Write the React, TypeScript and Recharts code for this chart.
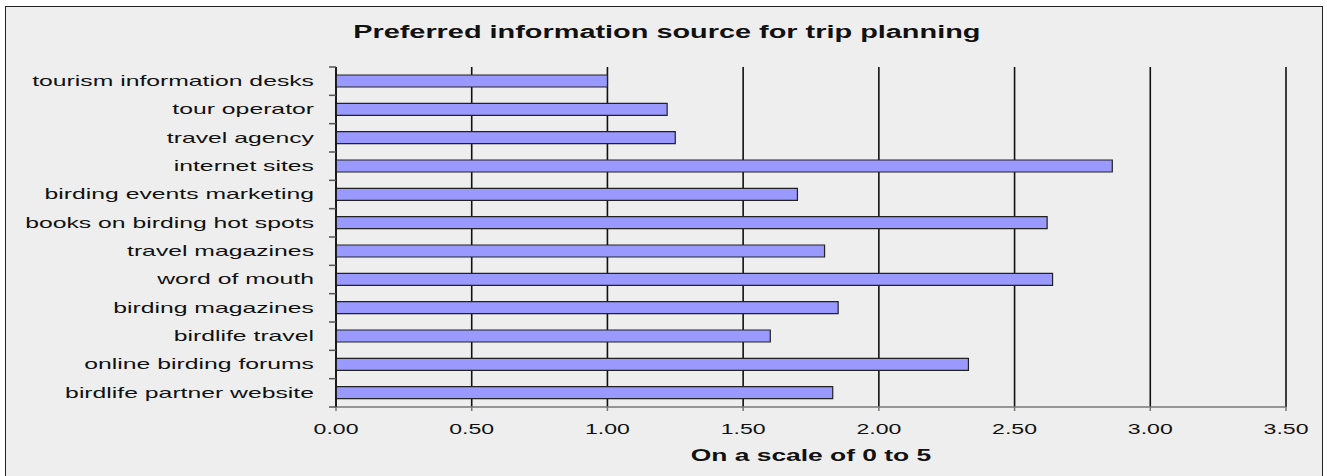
import React from "react";
import { BarChart, Bar, XAxis, YAxis, CartesianGrid } from "recharts";

const sources = [
  "tourism information desks",
  "tour operator",
  "travel agency",
  "internet sites",
  "birding events marketing",
  "books on birding hot spots",
  "travel magazines",
  "word of mouth",
  "birding magazines",
  "birdlife travel",
  "online birding forums",
  "birdlife partner website",
];

const scores = [1.0, 1.22, 1.25, 2.86, 1.7, 2.62, 1.8, 2.64, 1.85, 1.6, 2.33, 1.83];

const scaleTicks = [0, 0.5, 1, 1.5, 2, 2.5, 3, 3.5];

const data = sources.map((source, i) => ({ source, score: scores[i] }));

const WIDTH = 1327;
const HEIGHT = 476;
const TOP = 67;
const X_AXIS_HEIGHT = 69;
const Y_AXIS_WIDTH = 336;
const BAND = (HEIGHT - TOP - X_AXIS_HEIGHT) / sources.length;

const FONT = "'Liberation Sans', Arial, Helvetica, sans-serif";
// the lettering is drawn horizontally widened
const STRETCH = 1.65;

function WideText(props: any) {
  const { x, y, dy, anchor, size, bold, children } = props;
  return (
    <g transform={`translate(${x},${y}) scale(${STRETCH},1)`}>
      <text
        x={0}
        y={0}
        dy={dy}
        textAnchor={anchor}
        fill="#111"
        fontSize={size}
        fontWeight={bold ? "bold" : "normal"}
        fontFamily={FONT}
      >
        {children}
      </text>
    </g>
  );
}

// category label plus the tick marks between categories
function SourceTick(props: any) {
  const { x, y, payload, index } = props;
  const last = index === sources.length - 1;
  return (
    <g>
      <line x1={Y_AXIS_WIDTH - 7} x2={Y_AXIS_WIDTH} y1={y - BAND / 2} y2={y - BAND / 2} stroke="#555" strokeWidth={1.5} />
      {last && (
        <line x1={Y_AXIS_WIDTH - 7} x2={Y_AXIS_WIDTH} y1={y + BAND / 2} y2={y + BAND / 2} stroke="#555" strokeWidth={1.5} />
      )}
      <WideText x={x} y={y} dy="0.33em" anchor="end" size={15}>
        {payload.value}
      </WideText>
    </g>
  );
}

function ScaleTick(props: any) {
  const { x, y, payload } = props;
  return (
    <WideText x={x} y={y} dy="0.71em" anchor="middle" size={14}>
      {Number(payload.value).toFixed(2)}
    </WideText>
  );
}

function ScaleLabel(props: any) {
  const { viewBox } = props;
  return (
    <WideText x={viewBox.x + viewBox.width / 2} y={viewBox.y + viewBox.height - 15} anchor="middle" size={16} bold>
      On a scale of 0 to 5
    </WideText>
  );
}

export default function App() {
  return (
    <div style={{ position: "absolute", left: 0, top: 0, width: WIDTH, height: HEIGHT, background: "#fff", overflow: "hidden" }}>
      <div
        style={{
          position: "absolute",
          left: 5,
          top: 6,
          width: 1316,
          height: 480,
          background: "#eeeeee",
          border: "1.5px solid #222",
        }}
      />
      <div
        style={{
          position: "absolute",
          left: 0,
          top: 22,
          width: WIDTH,
          paddingLeft: 4,
          boxSizing: "border-box",
          textAlign: "center",
          fontFamily: FONT,
          fontWeight: "bold",
          fontSize: 17.5,
          color: "#111",
          lineHeight: "normal",
          transform: `scaleX(${STRETCH})`,
        }}
      >
        Preferred information source for trip planning
      </div>
      <div style={{ position: "absolute", left: 0, top: 0 }}>
        <BarChart
          width={WIDTH}
          height={HEIGHT}
          data={data}
          layout="vertical"
          margin={{ top: TOP, right: 41, bottom: 0, left: 0 }}
        >
          <CartesianGrid horizontal={false} stroke="#111" strokeWidth={1.6} />
          <XAxis
            type="number"
            domain={[0, 3.5]}
            ticks={scaleTicks}
            height={X_AXIS_HEIGHT}
            axisLine={{ stroke: "#777", strokeWidth: 1.5 }}
            tickLine={{ stroke: "#777", strokeWidth: 1.5 }}
            tickSize={4}
            tickMargin={13}
            tick={<ScaleTick />}
            label={<ScaleLabel />}
          />
          <YAxis
            type="category"
            dataKey="source"
            width={Y_AXIS_WIDTH}
            interval={0}
            axisLine={{ stroke: "#111", strokeWidth: 1.5 }}
            tickLine={false}
            tickSize={0}
            tickMargin={22}
            tick={<SourceTick />}
          />
          <Bar
            dataKey="score"
            barSize={12}
            fill="#9999ff"
            stroke="#222"
            strokeWidth={1.2}
            isAnimationActive={false}
          />
        </BarChart>
      </div>
    </div>
  );
}
